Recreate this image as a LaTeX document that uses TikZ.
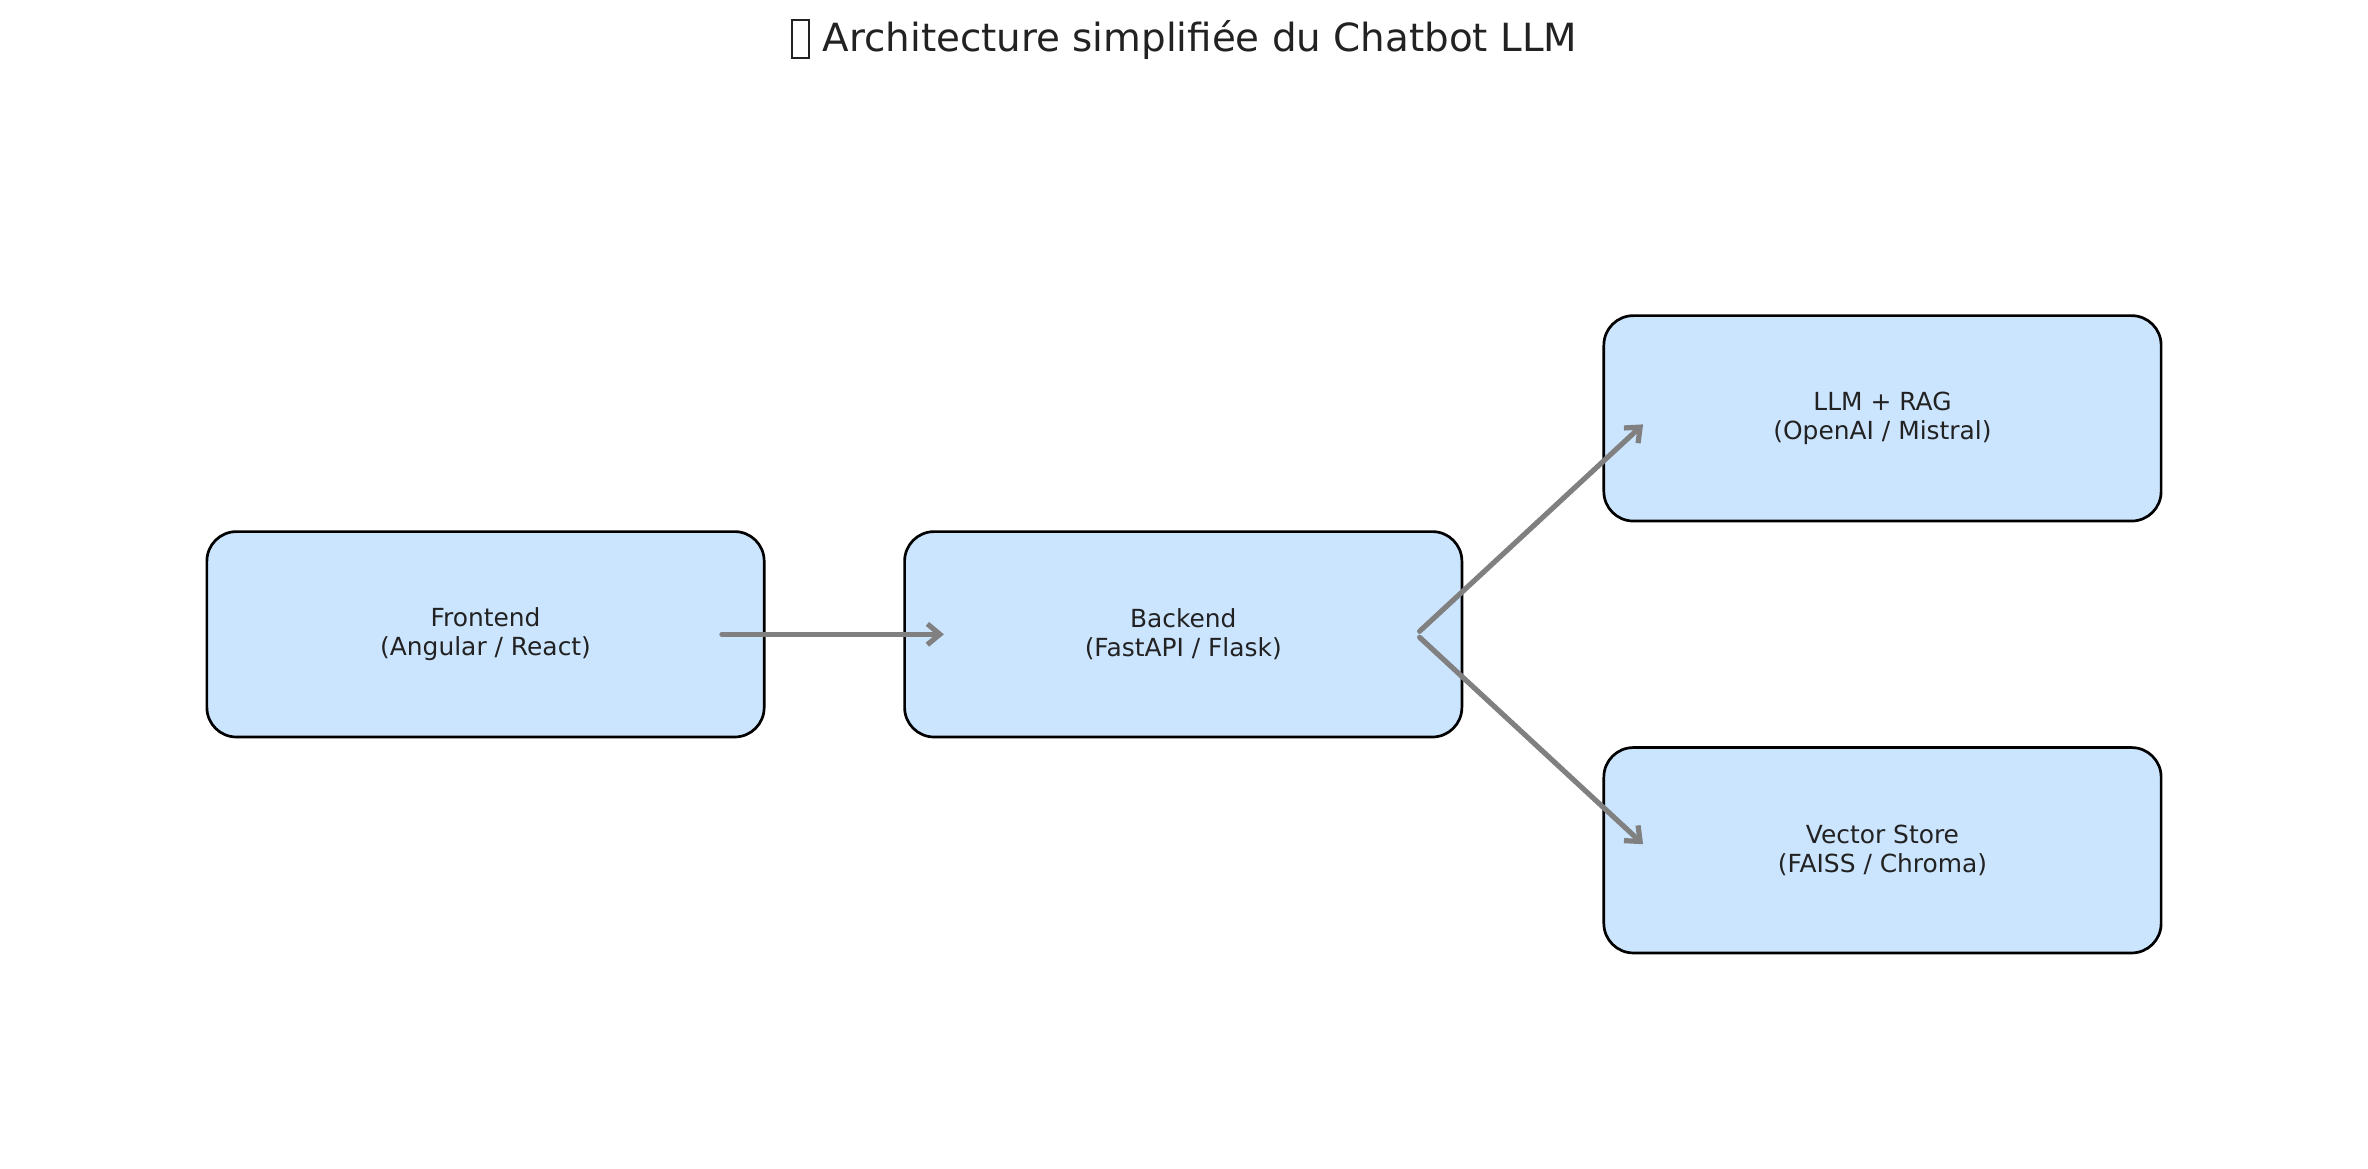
\documentclass[tikz,border=0pt]{standalone}
\usepackage{fontspec}
\setmainfont{DejaVu Sans}
\usetikzlibrary{calc, arrows.meta}
\definecolor{boxblue}{HTML}{CCE5FF}
\definecolor{txtgray}{HTML}{222222}
\newcommand{\tofubox}{\raisebox{-0.14em}{\setlength{\fboxsep}{0pt}\setlength{\fboxrule}{0.05em}\fbox{\rule{0pt}{0.92em}\hspace{0.4em}}}}

\begin{document}
\begin{tikzpicture}[x=0.025573cm, y=-0.025573cm,
    comp/.style={draw=black, line width=1.3pt, fill=boxblue, rounded corners=0.5cm,
      minimum width=9.437cm, minimum height=3.478cm, align=center,
      font=\fontsize{12}{14}\selectfont, text=txtgray},
    flow/.style={draw=gray, line width=2.5pt, line cap=round, line join=round,
      -{Straight Barb[length=6pt, width=10pt]}}
  ]
    \path[use as bounding box, fill=white] (0,0) rectangle (1568,773.4);
    % title
    \node[text=txtgray, font=\fontsize{18.7}{22}\selectfont] (title) at (784,26)
      {\tofubox{} Architecture simplifiée du Chatbot LLM};
    % the four parts
    \node[comp] (front) at (321.5,420) {Frontend\\(Angular / React)};
    \node[comp] (back)  at (783.5,420) {Backend\\(FastAPI / Flask)};
    \node[comp] (llm)   at (1246.5,277) {LLM + RAG\\(OpenAI / Mistral)};
    \node[comp] (vec)   at (1246.5,563) {Vector Store\\(FAISS / Chroma)};
    % arrow ends
    \coordinate (front-out) at ($(front)+(156.5,0)$);
    \coordinate (back-in)   at ($(back)+(-158.5,0)$);
    \coordinate (back-up)   at ($(back)+(156.5,-2)$);
    \coordinate (back-down) at ($(back)+(156.5,2)$);
    \coordinate (llm-in)    at ($(llm)+(-158.5,4)$);
    \coordinate (vec-in)    at ($(vec)+(-158.5,-4)$);
    \draw[flow] (front-out) -- (back-in);
    \draw[flow] (back-up) -- (llm-in);
    \draw[flow] (back-down) -- (vec-in);
\end{tikzpicture}
\end{document}
